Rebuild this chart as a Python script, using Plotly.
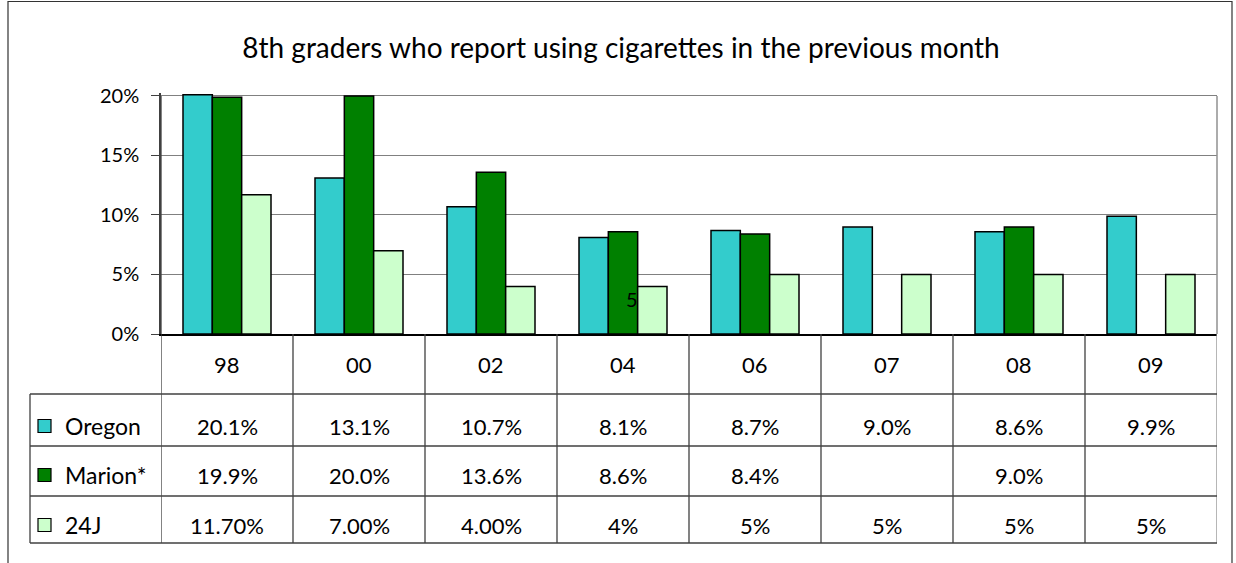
import plotly.graph_objects as go

W, H = 1236, 563
categories = ["98", "00", "02", "04", "06", "07", "08", "09"]
series_names = ["Oregon", "Marion*", "24J"]
oregon = [20.1, 13.1, 10.7, 8.1, 8.7, 9.0, 8.6, 9.9]
marion = [19.9, 20.0, 13.6, 8.6, 8.4, None, 9.0, None]
j24 = [11.7, 7.0, 4.0, 4, 5, 5, 5, 5]
oregon_text = ["20.1%", "13.1%", "10.7%", "8.1%", "8.7%", "9.0%", "8.6%", "9.9%"]
marion_text = ["19.9%", "20.0%", "13.6%", "8.6%", "8.4%", "", "9.0%", ""]
j24_text = ["11.70%", "7.00%", "4.00%", "4%", "5%", "5%", "5%", "5%"]
colors = ["#33CCCC", "#008000", "#CCFFCC"]
y_ticks = [0, 5, 10, 15, 20]
y_tick_text = ["0%", "5%", "10%", "15%", "20%"]
title = "8th graders who report using cigarettes in the previous month"

FONT = "Lato, 'DejaVu Sans', sans-serif"
def fx(p): return p / W
def fy(p): return 1 - p / H

fig = go.Figure()
for name, vals, col in zip(series_names, [oregon, marion, j24], colors):
    fig.add_trace(go.Bar(x=categories, y=vals, name=name,
                         marker=dict(color=col, line=dict(color="black", width=1.5)),
                         hoverinfo="skip"))

plot_l, plot_r, plot_b, plot_t = 161, 1217, 334, 93
row_edges = [334, 394, 446, 496, 543]
text_centers = [426, 475, 525]
label_l = 30
line_col = "#404040"

shapes = []
shapes.append(dict(type="rect", xref="paper", yref="paper", x0=fx(8), x1=fx(1232), y0=-0.05, y1=fy(1.5),
                   line=dict(color="#333333", width=1.2)))
shapes.append(dict(type="line", xref="paper", yref="paper", x0=fx(plot_r), x1=fx(plot_r),
                   y0=fy(96), y1=fy(plot_b), line=dict(color="#909090", width=1.5)))
for i in range(len(categories) + 1):
    top = 96 if i == 0 else plot_b
    shapes.append(dict(type="line", xref="x", yref="paper", x0=i - 0.5, x1=i - 0.5,
                       y0=fy(top), y1=fy(row_edges[-1]),
                       line=dict(color=line_col if i < len(categories) else "#909090", width=1.3)))
shapes.append(dict(type="line", xref="paper", yref="paper", x0=fx(label_l), x1=fx(label_l),
                   y0=fy(row_edges[1]), y1=fy(row_edges[-1]), line=dict(color=line_col, width=1.3)))
for k, ry in enumerate(row_edges):
    if k == 0:
        continue
    shapes.append(dict(type="line", xref="paper", yref="paper", x0=fx(label_l), x1=fx(plot_r),
                       y0=fy(ry), y1=fy(ry), line=dict(color=line_col, width=1.3)))
for k, col in enumerate(colors):
    cy = text_centers[k]
    shapes.append(dict(type="rect", xref="paper", yref="paper", x0=fx(38), x1=fx(51),
                       y0=fy(cy + 6.5), y1=fy(cy - 6.5), fillcolor=col, line=dict(color="black", width=1.2)))

TS = 22
ann = []
for i, c in enumerate(categories):
    ann.append(dict(x=i, y=fy(364), xref="x", yref="paper", text=c,
                    xanchor="center", yanchor="middle",
                    showarrow=False, font=dict(size=TS, color="black", family=FONT)))
for k, (name, texts) in enumerate(zip(series_names, [oregon_text, marion_text, j24_text])):
    cy = fy(text_centers[k])
    ann.append(dict(x=fx(63), y=cy, xref="paper", yref="paper", text=name, xanchor="left",
                    yanchor="middle", showarrow=False, font=dict(size=23, color="black", family=FONT)))
    for i, t in enumerate(texts):
        if t:
            ann.append(dict(x=i, y=cy, xref="x", yref="paper", text=t, showarrow=False,
                            xanchor="center", yanchor="middle",
                            font=dict(size=TS, color="black", family=FONT)))
ann.append(dict(x=fx(632), y=fy(299), xref="paper", yref="paper", text="5", showarrow=False,
                xanchor="center", yanchor="middle",
                font=dict(size=20, color="black", family=FONT)))

fig.update_layout(
    width=W, height=H, autosize=False,
    margin=dict(l=0, r=0, t=0, b=0, pad=0, autoexpand=False),
    paper_bgcolor="white", plot_bgcolor="white",
    barmode="group", bargap=1/3, bargroupgap=0, showlegend=False,
    title=dict(text=title, x=fx(621), xanchor="center", y=fy(48), yanchor="middle",
               font=dict(size=28, color="black", family=FONT)),
    xaxis=dict(type="category", range=[-0.5, len(categories) - 0.5], automargin=False,
               domain=[fx(plot_l), fx(plot_r)], showticklabels=False, ticks="",
               showline=True, linecolor="black", linewidth=1.5, showgrid=False, zeroline=False,
               fixedrange=True),
    yaxis=dict(domain=[fy(plot_b), fy(plot_t)], range=[0, 20.25], tickvals=y_ticks, automargin=False,
               ticktext=y_tick_text, ticks="outside", ticklen=8, tickcolor=line_col,
               ticklabelstandoff=8,
               showline=True, linecolor=line_col, linewidth=1.5,
               showgrid=True, gridcolor="#808080", gridwidth=1, zeroline=False,
               tickfont=dict(size=20, color="black", family=FONT)),
    shapes=shapes, annotations=ann,
)
fig.write_html("out.html", config={"displayModeBar": False},
               post_script="document.body.style.margin='0';document.body.style.overflow='hidden';")
